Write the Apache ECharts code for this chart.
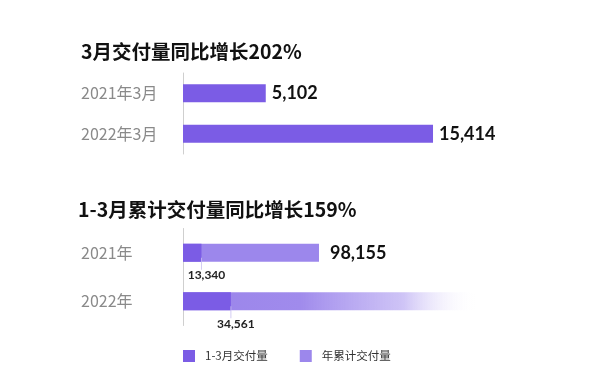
<!DOCTYPE html>
<html>
<head>
<meta charset="utf-8">
<script src="https://cdn.jsdelivr.net/npm/echarts@6/dist/echarts.min.js"></script>
<style>html,body{margin:0;padding:0;background:#fff}#c{width:600px;height:386px}</style>
</head>
<body>
<div id="c"></div>
<script>
// ---- data ----
const title1 = '3月交付量同比增长202%';
const title2 = '1-3月累计交付量同比增长159%';
const monthCats = ['2021年3月', '2022年3月'];
const marchDelivery = [5102, 15414];
const yearCats = ['2021年', '2022年'];
const q1Delivery = [13340, 34561];
const ytdDelivery = [98155, 212000]; // 2022 value: visual extent of fading bar (estimated)
const legendNames = ['1-3月交付量', '年累计交付量'];

const DARK = '#7b5ce5';
const LIGHT = '#9c87ec';
const fmt = v => String(v).replace(/\B(?=(\d{3})+(?!\d))/g, ',');
const CJK = '"Noto Sans CJK SC", "Noto Sans", sans-serif';
const NUM = 'Lato, "Noto Sans", sans-serif';

const chart = echarts.init(document.getElementById('c'), null, {renderer: 'canvas'});

const catAxisCommon = {
  type: 'category', inverse: true,
  axisLine: {show: true, lineStyle: {color: '#cfcfcf', width: 1}},
  axisTick: {show: false},
  axisLabel: {align: 'left', margin: 102, color: '#8a8a8a', fontSize: 16, fontFamily: CJK}
};

chart.setOption({
  animation: false,
  title: [
    {text: title1, left: 81, top: 42, padding: 0,
     textStyle: {fontSize: 19.5, fontWeight: 'bold', color: '#111', fontFamily: CJK}},
    {text: title2, left: 78, top: 200, padding: 0,
     textStyle: {fontSize: 19.5, fontWeight: 'bold', color: '#111', fontFamily: CJK}}
  ],
  legend: {
    data: legendNames, left: 183, top: 350, padding: 0,
    icon: 'rect', itemWidth: 12, itemHeight: 12, itemGap: 32,
    textStyle: {fontSize: 11.5, color: '#333', fontFamily: CJK, padding: [0, 0, 0, 5]}
  },
  grid: [
    {left: 183, top: 73, width: 324.4, height: 81},
    {left: 183, top: 228.5, width: 304.8, height: 97}
  ],
  xAxis: [
    {gridIndex: 0, type: 'value', min: 0, max: 20000, show: false},
    {gridIndex: 1, type: 'value', min: 0, max: 220000, show: false}
  ],
  yAxis: [
    Object.assign({gridIndex: 0, data: monthCats}, catAxisCommon),
    Object.assign({gridIndex: 1, data: yearCats}, catAxisCommon)
  ],
  series: [
    {
      name: '3月交付量', type: 'bar', xAxisIndex: 0, yAxisIndex: 0,
      data: marchDelivery, barWidth: 18, itemStyle: {color: DARK},
      label: {show: true, position: 'right', distance: 6, formatter: p => fmt(p.value),
        fontSize: 18, fontWeight: 'bold', color: '#111', fontFamily: NUM}
    },
    {
      name: legendNames[0], type: 'bar', xAxisIndex: 1, yAxisIndex: 1, z: 3,
      data: q1Delivery, barWidth: 18, barGap: '-100%', itemStyle: {color: DARK},
      label: {show: true, position: ['100%', '175%'], offset: [5, 0], align: 'center', verticalAlign: 'middle',
        formatter: p => fmt(p.value), fontSize: 12, fontWeight: 'bold', color: '#222', fontFamily: NUM}
    },
    {
      name: legendNames[1], type: 'bar', xAxisIndex: 1, yAxisIndex: 1, z: 2,
      barWidth: 18, barGap: '-100%', itemStyle: {color: LIGHT},
      data: [
        {value: ytdDelivery[0],
         label: {show: true, position: 'right', distance: 11, formatter: p => fmt(p.value),
           fontSize: 18, fontWeight: 'bold', color: '#111', fontFamily: NUM}},
        {value: ytdDelivery[1],
         itemStyle: {color: new echarts.graphic.LinearGradient(0, 0, 1, 0, [
           {offset: 0, color: '#9a84ea'},
           {offset: 0.4, color: '#a08bec'},
           {offset: 0.75, color: 'rgba(190,176,243,0.75)'},
           {offset: 1, color: 'rgba(255,255,255,0)'}
         ])}}
      ]
    },
    {
      name: 'tick', type: 'scatter', xAxisIndex: 1, yAxisIndex: 1, z: 4, silent: true,
      data: q1Delivery.map((v, i) => [v, i]),
      symbol: 'rect', symbolSize: [1, 12], symbolOffset: [0, 11],
      itemStyle: {color: '#c9bff0'}
    }
  ]
});
</script>
</body>
</html>
